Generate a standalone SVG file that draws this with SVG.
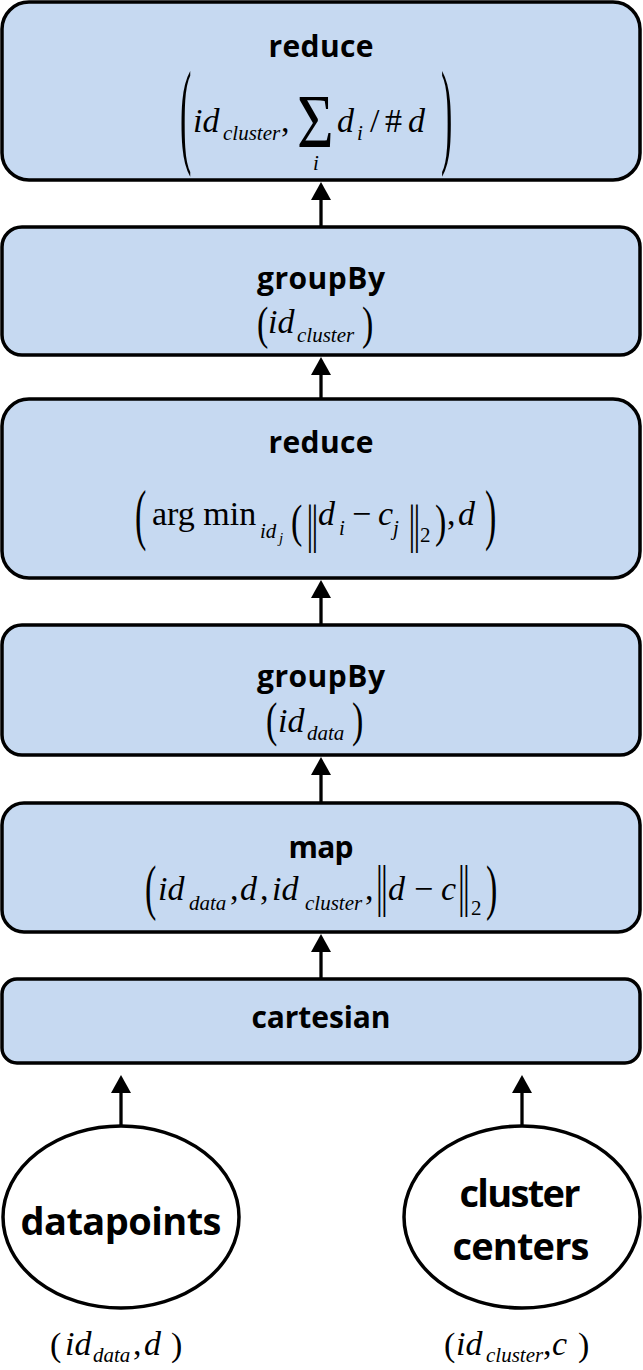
<svg xmlns="http://www.w3.org/2000/svg" width="643" height="1370" viewBox="0 0 643 1370">
<style>
.box{fill:#C6D9F1;stroke:#000;stroke-width:3.5}
.ell{fill:#fff;stroke:#000;stroke-width:3.5}
.t{font-family:"Open Sans","Liberation Sans",sans-serif;font-weight:700;font-size:30px;fill:#000;text-anchor:middle}
.big{font-size:38px}
.m{font-family:"Liberation Serif","Times New Roman",serif;font-size:34px;fill:#000}
.i{font-style:italic}
.s{font-size:21px}
.ss{font-size:15px}
.sig{font-size:60px}
.conn line{stroke:#000;stroke-width:3.3}
</style>
<defs>
<marker id="ah" markerUnits="userSpaceOnUse" markerWidth="20" markerHeight="22" refX="8" refY="10" orient="auto">
<path d="M0,0 L18,10 L0,20 z" fill="#000"/>
</marker>
</defs>
<rect width="643" height="1370" fill="#fff"/>

<g id="reduce2">
<rect class="box" x="2" y="2" width="638" height="178" rx="27"/>
<text class="t" x="321" y="57" textLength="105">reduce</text>
<text class="m" transform="translate(180,152) scale(1,3.41)">(</text>
<text class="m i" x="193" y="132">id</text>
<text class="m i s" x="223" y="140">cluster</text>
<text class="m" x="281" y="132">,</text>
<text class="m sig" transform="translate(297,147) scale(1.05,1.26)">Σ</text>
<text class="m i s" x="313" y="170">i</text>
<text class="m i" x="337" y="132">d</text>
<text class="m i s" x="357" y="140">i</text>
<text class="m" x="370" y="132">/</text>
<text class="m" x="385" y="132">#</text>
<text class="m i" x="408" y="132">d</text>
<text class="m" transform="translate(441,152) scale(1,3.41)">)</text>
</g>

<g id="groupBy2">
<rect class="box" x="2" y="227" width="638" height="128" rx="20"/>
<text class="t" x="321" y="289" textLength="128">groupBy</text>
<text class="m" transform="translate(257,338.7) scale(1,1.35)">(</text>
<text class="m i" x="268" y="333">id</text>
<text class="m i s" x="297" y="342">cluster</text>
<text class="m" transform="translate(362,338.7) scale(1,1.35)">)</text>
</g>

<g id="reduce1">
<rect class="box" x="2" y="399" width="638" height="179" rx="27"/>
<text class="t" x="321" y="453" textLength="105">reduce</text>
<text class="m" transform="translate(135,536.6) scale(1,1.976)">(</text>
<text class="m" x="152" y="525">arg min</text>
<text class="m i s" x="260" y="538">id</text>
<text class="m i ss" x="279" y="543">j</text>
<text class="m" transform="translate(291,537) scale(1,1.365)">(</text>
<text class="m" transform="translate(306.4,542) scale(1,1.56)">|</text>
<text class="m" transform="translate(311.4,542) scale(1,1.56)">|</text>
<text class="m i" x="318" y="525">d</text>
<text class="m i s" x="339" y="535">i</text>
<text class="m" x="352" y="525">−</text>
<text class="m i" x="378" y="525">c</text>
<text class="m i s" x="393" y="535">j</text>
<text class="m" transform="translate(408.4,542) scale(1,1.56)">|</text>
<text class="m" transform="translate(413.4,542) scale(1,1.56)">|</text>
<text class="m s" x="420" y="542">2</text>
<text class="m" transform="translate(435,537) scale(1,1.365)">)</text>
<text class="m" x="447" y="525">,</text>
<text class="m i" x="458" y="525">d</text>
<text class="m" transform="translate(485,536.6) scale(1,1.976)">)</text>
</g>

<g id="groupBy1">
<rect class="box" x="2" y="625" width="638" height="130" rx="20"/>
<text class="t" x="321" y="687" textLength="128">groupBy</text>
<text class="m" transform="translate(266,736) scale(1,1.45)">(</text>
<text class="m i" x="278" y="732">id</text>
<text class="m i s" x="307" y="740">data</text>
<text class="m" transform="translate(352,736) scale(1,1.45)">)</text>
</g>

<g id="map">
<rect class="box" x="2" y="803" width="638" height="129" rx="22"/>
<text class="t" x="321" y="858" textLength="65">map</text>
<text class="m" transform="translate(145,907.7) scale(1,1.8)">(</text>
<text class="m i" x="158" y="900">id</text>
<text class="m i s" x="189" y="910">data</text>
<text class="m" x="230" y="900">,</text>
<text class="m i" x="240" y="900">d</text>
<text class="m" x="260" y="900">,</text>
<text class="m i" x="272" y="900">id</text>
<text class="m i s" x="305" y="910">cluster</text>
<text class="m" x="365" y="900">,</text>
<text class="m" transform="translate(376,905) scale(1,1.7)">|</text>
<text class="m" transform="translate(381,905) scale(1,1.7)">|</text>
<text class="m i" x="388" y="900">d</text>
<text class="m" x="414" y="900">−</text>
<text class="m i" x="441" y="900">c</text>
<text class="m" transform="translate(458,905) scale(1,1.7)">|</text>
<text class="m" transform="translate(463,905) scale(1,1.7)">|</text>
<text class="m s" x="471" y="915">2</text>
<text class="m" transform="translate(486,907.7) scale(1,1.8)">)</text>
</g>

<g id="cartesian">
<rect class="box" x="2" y="979" width="638" height="84" rx="15"/>
<text class="t" x="321" y="1028" textLength="139">cartesian</text>
</g>

<g id="datapoints">
<ellipse class="ell" cx="121" cy="1217" rx="118" ry="91"/>
<text class="t big" x="121" y="1235" textLength="201">datapoints</text>
<text class="m" x="50" y="1356">(</text>
<text class="m i" x="65" y="1355">id</text>
<text class="m i s" x="93" y="1362">data</text>
<text class="m" x="133" y="1355">,</text>
<text class="m i" x="144" y="1355">d</text>
<text class="m" x="171" y="1356">)</text>
</g>

<g id="clustercenters">
<ellipse class="ell" cx="522" cy="1217" rx="118" ry="91"/>
<text class="t big" x="520" y="1207" textLength="121">cluster</text>
<text class="t big" x="521" y="1260" textLength="137">centers</text>
<text class="m" x="444" y="1356">(</text>
<text class="m i" x="456" y="1355">id</text>
<text class="m i s" x="486" y="1362">cluster</text>
<text class="m" x="543" y="1355">,</text>
<text class="m i" x="552" y="1355">c</text>
<text class="m" x="578" y="1356">)</text>
</g>

<g id="connectors" class="conn">
<line x1="321" y1="227" x2="321" y2="192" marker-end="url(#ah)"/>
<line x1="321" y1="399" x2="321" y2="367" marker-end="url(#ah)"/>
<line x1="321" y1="625" x2="321" y2="590" marker-end="url(#ah)"/>
<line x1="321" y1="803" x2="321" y2="767" marker-end="url(#ah)"/>
<line x1="321" y1="979" x2="321" y2="944" marker-end="url(#ah)"/>
<line x1="121" y1="1126" x2="121" y2="1085" marker-end="url(#ah)"/>
<line x1="522" y1="1126" x2="522" y2="1085" marker-end="url(#ah)"/>
</g>
</svg>
